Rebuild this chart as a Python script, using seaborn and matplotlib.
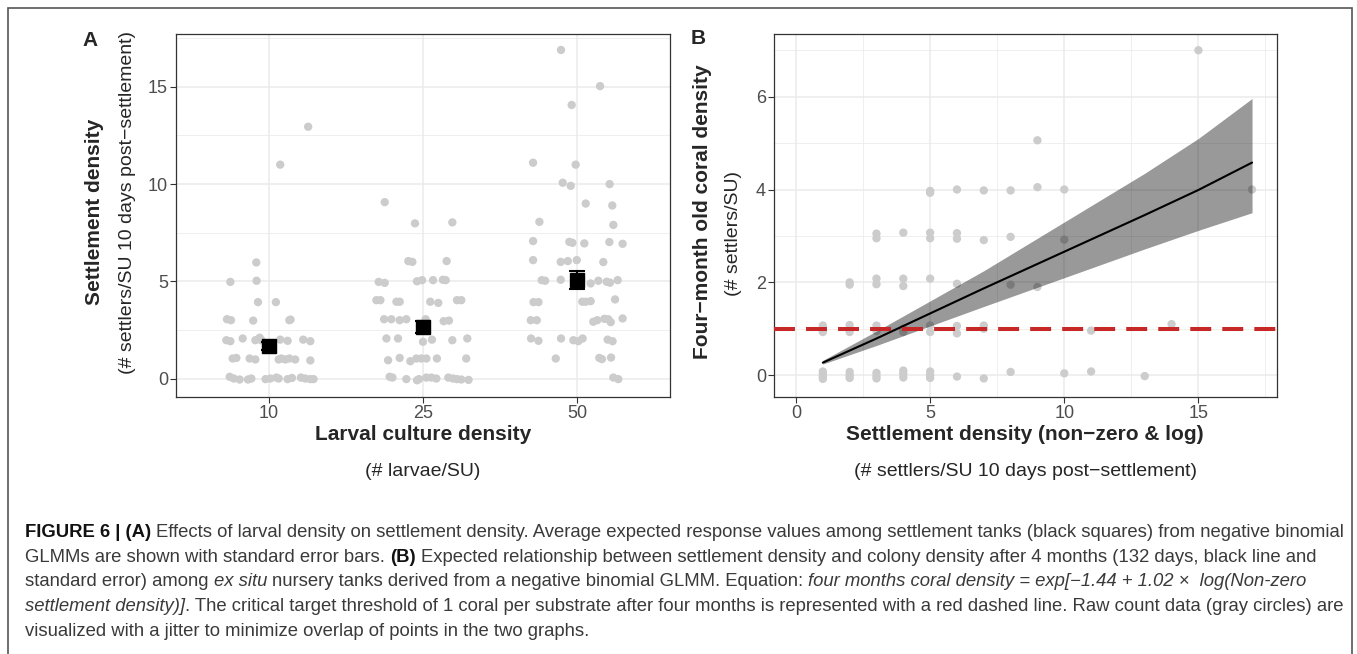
import numpy as np
import pandas as pd
import matplotlib
matplotlib.use('Agg')
import matplotlib.pyplot as plt
import seaborn as sns
from matplotlib.ticker import MultipleLocator
from matplotlib.patches import Rectangle

sns.set_theme(style='white')
plt.rcParams['font.family'] = ['Liberation Sans', 'DejaVu Sans']

# ---- panel A data: larval culture density groups (jitter offsets)
groups = ['10', '25', '50']
a10_dx = [0.256, 0.075, -0.08, -0.248, -0.078, -0.069, 0.047, -0.27, -0.244, -0.1, 0.134, 0.142,
          -0.274, -0.248, -0.168, -0.086, -0.058, -0.047, 0.075, 0.123, 0.224, 0.27, -0.233, -0.209,
          -0.123, -0.086, 0.065, 0.082, 0.108, 0.134, 0.172, 0.27, -0.252, -0.226, -0.188, -0.134,
          -0.112, -0.02, 0.011, 0.05, 0.065, 0.123, 0.151, 0.209, 0.237, 0.27, 0.291]
a10_y = [12.95, 11.0, 5.97, 4.97, 5.03, 3.93, 3.93, 3.05, 3.0, 2.98, 3.0, 3.03,
         1.97, 1.92, 2.06, 1.97, 2.1, 1.97, 2.0, 1.94, 2.0, 1.92, 1.03, 1.06,
         1.03, 0.98, 0.98, 1.03, 0.98, 1.03, 0.98, 0.93, 0.09, 0.0, -0.05, -0.05,
         0.0, -0.03, 0.0, 0.05, 0.0, -0.03, 0.03, 0.05, 0.0, -0.03, -0.03]
a25_dx = [-0.248, -0.052, 0.19, -0.095, -0.069, 0.153, -0.287, -0.248, -0.039, -0.006, 0.065, 0.129,
          0.147, -0.302, -0.276, -0.172, -0.151, 0.047, 0.099, 0.22, 0.248, -0.252, -0.205, -0.151,
          -0.108, 0.017, 0.134, 0.168, -0.237, -0.162, 0.0, 0.058, 0.19, 0.287, -0.226, -0.151,
          -0.082, -0.043, -0.011, 0.022, 0.09, 0.28, -0.216, -0.198, -0.108, -0.039, -0.026, 0.022,
          0.054, 0.086, 0.164, 0.194, 0.22, 0.248, 0.295]
a25_y = [9.07, 7.98, 8.03, 6.04, 6.0, 6.04, 4.97, 4.92, 5.0, 5.06, 5.06, 5.08,
         5.06, 4.03, 4.03, 3.95, 3.95, 3.95, 3.89, 4.03, 4.03, 3.05, 3.05, 3.0,
         3.05, 3.05, 2.95, 2.98, 2.06, 2.06, 1.89, 2.0, 1.97, 2.06, 0.94, 1.06,
         0.89, 1.03, 1.03, 1.03, 1.03, 1.03, 0.09, 0.05, -0.03, -0.09, -0.03, 0.05,
         0.05, 0.0, 0.05, 0.0, -0.03, -0.05, -0.07]
a50_dx = [-0.106, 0.147, -0.037, -0.287, -0.011, -0.095, -0.043, 0.209, 0.054, 0.226, -0.246, 0.233,
          -0.287, -0.052, -0.032, 0.045, 0.207, 0.293, -0.287, -0.108, -0.062, -0.004, 0.168, -0.231,
          -0.209, -0.108, 0.086, 0.136, 0.19, 0.211, 0.261, -0.284, -0.252, 0.032, 0.054, 0.086,
          0.244, -0.302, -0.263, 0.103, 0.129, 0.175, 0.2, 0.216, 0.293, -0.3, -0.252, -0.106,
          -0.026, 0.006, 0.034, 0.196, 0.228, -0.14, 0.142, 0.159, 0.218, 0.233, 0.265]
a50_y = [16.9, 15.04, 14.07, 11.1, 11.0, 10.07, 9.91, 10.0, 9.0, 8.9, 8.06, 7.9,
         7.07, 7.03, 6.98, 6.95, 7.02, 6.93, 6.09, 6.0, 6.04, 6.09, 5.99, 5.06,
         5.03, 5.08, 4.89, 5.03, 4.98, 4.93, 5.06, 3.93, 3.93, 3.95, 3.95, 3.98,
         4.07, 3.0, 3.0, 2.92, 3.0, 3.07, 3.05, 2.9, 3.09, 2.06, 1.94, 2.06,
         1.97, 1.92, 2.06, 2.0, 1.92, 1.03, 1.06, 1.0, 1.08, 0.05, -0.03]
a_mean = [1.66, 2.65, 5.06]
a_se = [0.2, 0.3, 0.47]

# ---- panel B data: settlement density vs four-month coral density
b_x = [1, 1, 1, 1, 1, 1,
       2, 2, 2, 2, 2, 2, 2,
       3, 3, 3, 3, 3, 3, 3, 3, 3,
       4, 4, 4, 4, 4, 4, 4, 4,
       5, 5, 5, 5, 5, 5, 5, 5, 5, 5,
       6, 6, 6, 6, 6, 6, 6,
       7, 7, 7, 7, 7,
       8, 8, 8, 8,
       9, 9, 9,
       10, 10, 10,
       11, 11, 13, 14, 15, 17]
b_y = [1.07, 0.93, 0.08, 0.02, -0.04, -0.08,
       2.0, 1.95, 1.08, 0.93, 0.07, 0.0, -0.06,
       3.05, 2.95, 2.08, 1.96, 1.07, 0.95, 0.05, -0.02, -0.07,
       3.07, 2.08, 1.92, 1.0, 0.93, 0.1, 0.03, -0.05,
       3.97, 3.93, 3.07, 2.95, 2.08, 1.07, 0.93, 0.08, 0.0, -0.06,
       4.0, 3.06, 2.94, 1.97, 1.06, 0.9, -0.03,
       3.98, 2.91, 1.07, 1.0, -0.07,
       3.98, 2.98, 1.95, 0.07,
       5.06, 4.05, 1.9,
       4.0, 2.92, 0.04,
       0.96, 0.08, -0.02, 1.1, 7.0, 4.0]
fit_x = [1, 3, 5, 7, 10, 13, 15, 17]
fit_y = [0.27, 0.79, 1.33, 1.87, 2.66, 3.45, 3.99, 4.58]
fit_lo = [0.24, 0.64, 1.06, 1.48, 2.1, 2.72, 3.12, 3.5]
fit_hi = [0.32, 0.95, 1.6, 2.25, 3.3, 4.35, 5.1, 5.96]
threshold = 1

W, H = 1357, 654
fig = plt.figure(figsize=(W / 100, H / 100), dpi=100)
axA = fig.add_axes([176 / W, 1 - 397 / H, 494 / W, 363 / H])
axB = fig.add_axes([774 / W, 1 - 397 / H, 503 / W, 363 / H])

pt_col = '#cccccc'
grid_col = '#ebebeb'

# panel A
df_a = pd.DataFrame({
    'pos': [0 + d for d in a10_dx] + [1 + d for d in a25_dx] + [2 + d for d in a50_dx],
    'y': a10_y + a25_y + a50_y})
sns.scatterplot(data=df_a, x='pos', y='y', color=pt_col, s=36, edgecolor='none', ax=axA, zorder=3)
axA.errorbar(range(3), a_mean, yerr=a_se, fmt='s', color='black', ms=10, capsize=5.5,
             elinewidth=1.5, capthick=1.5, zorder=4)
axA.set_xlim(-0.6, 2.6)
axA.set_ylim(-0.95, 17.72)
axA.set_xticks(range(3))
axA.set_xticklabels(groups)
axA.yaxis.set_major_locator(MultipleLocator(5))
axA.yaxis.set_minor_locator(MultipleLocator(2.5))

# panel B
df_b = pd.DataFrame({'x': b_x, 'y': b_y})
df_fit = pd.DataFrame({'x': fit_x, 'y': fit_y, 'lo': fit_lo, 'hi': fit_hi})
sns.scatterplot(data=df_b, x='x', y='y', color=pt_col, s=36, edgecolor='none', ax=axB, zorder=3)
axB.fill_between(df_fit['x'], df_fit['lo'], df_fit['hi'], color='black', alpha=0.4, lw=0, zorder=4)
sns.lineplot(data=df_fit, x='x', y='y', color='black', lw=1.5, ax=axB, zorder=5)
axB.axhline(threshold, color='#c62828', lw=2.9, dashes=(5.2, 2.75), zorder=6)
axB.set_xlim(-0.82, 17.93)
axB.set_ylim(-0.47, 7.35)
axB.xaxis.set_major_locator(MultipleLocator(5))
axB.xaxis.set_minor_locator(MultipleLocator(2.5))
axB.yaxis.set_major_locator(MultipleLocator(2))
axB.yaxis.set_minor_locator(MultipleLocator(1))

for ax in (axA, axB):
    ax.set_xlabel('')
    ax.set_ylabel('')
    ax.set_facecolor('white')
    ax.grid(True, which='major', color=grid_col, lw=1.1, zorder=0)
    ax.grid(True, which='minor', color=grid_col, lw=0.55, zorder=0)
    ax.set_axisbelow(True)
    for sp in ax.spines.values():
        sp.set_color('#333333')
        sp.set_linewidth(0.9)
    ax.tick_params(which='major', length=4.3, width=0.8, color='#333333', labelcolor='#4d4d4d',
                   labelsize=13, pad=1.5, bottom=True, left=True)
    ax.tick_params(which='minor', length=0)

# axis titles and panel letters
def ftext(x, y, s, **kw):
    fig.text(x / W, 1 - y / H, s, ha='center', va='center', **kw)

ftext(90, 40, 'A', fontsize=15, fontweight='bold')
ftext(698, 38, 'B', fontsize=15, fontweight='bold')
ftext(95, 212, 'Settlement density', fontsize=15, fontweight='bold', rotation=90)
ftext(128, 203, '(# settlers/SU 10 days post\u2212settlement)', fontsize=14, rotation=90)
ftext(702, 212, 'Four\u2212month old coral density', fontsize=15, fontweight='bold', rotation=90)
ftext(733, 233, '(# settlers/SU)', fontsize=14, rotation=90)
ftext(423, 435, 'Larval culture density', fontsize=15, fontweight='bold')
ftext(423, 472, '(# larvae/SU)', fontsize=14)
ftext(1025, 435, 'Settlement density (non\u2212zero & log)', fontsize=15, fontweight='bold')
ftext(1025, 472, '(# settlers/SU 10 days post\u2212settlement)', fontsize=14)

# frame around the figure
fig.patches.append(Rectangle((8 / W, -0.05), 1344 / W, 1.05 - 8 / H, transform=fig.transFigure,
                             fill=False, edgecolor='#555555', lw=1.2))

# caption with mixed styles
cap_fs = 13.3
cap_col = '#3a3a3a'
renderer = fig.canvas.get_renderer()
B_, I_, N_ = {'fontweight': 'bold'}, {'style': 'italic'}, {}

t0 = fig.text(0, 0, 'x x', fontsize=cap_fs)
t1 = fig.text(0, 0, 'xx', fontsize=cap_fs)
space_w = t0.get_window_extent(renderer).width - t1.get_window_extent(renderer).width
t0.remove()
t1.remove()

caption = [
    (537, [('FIGURE 6 | (A)', B_), (' Effects of larval density on settlement density. Average expected response values among settlement tanks (black squares) from negative binomial', N_)]),
    (562, [('GLMMs are shown with standard error bars. ', N_), ('(B)', B_), (' Expected relationship between settlement density and colony density after 4 months (132 days, black line and', N_)]),
    (586.5, [('standard error) among ', N_), ('ex situ', I_), (' nursery tanks derived from a negative binomial GLMM. Equation: ', N_), ('four months coral density = exp[\u22121.44 + 1.02 \u00d7  log(Non-zero', I_)]),
    (611, [('settlement density)]', I_), ('. The critical target threshold of 1 coral per substrate after four months is represented with a red dashed line. Raw count data (gray circles) are', N_)]),
    (635.5, [('visualized with a jitter to minimize overlap of points in the two graphs.', N_)]),
]
for y_px, runs in caption:
    x_px = 25
    for s, kw in runs:
        lead = len(s) - len(s.lstrip(' '))
        trail = len(s) - len(s.rstrip(' '))
        x_px += lead * space_w
        col = '#111111' if kw is B_ else cap_col
        t = fig.text(x_px / W, 1 - y_px / H, s.strip(' '), fontsize=cap_fs, color=col,
                     va='baseline', ha='left', **kw)
        x_px += t.get_window_extent(renderer).width + trail * space_w

fig.savefig('out.png', dpi=100, facecolor='white')
